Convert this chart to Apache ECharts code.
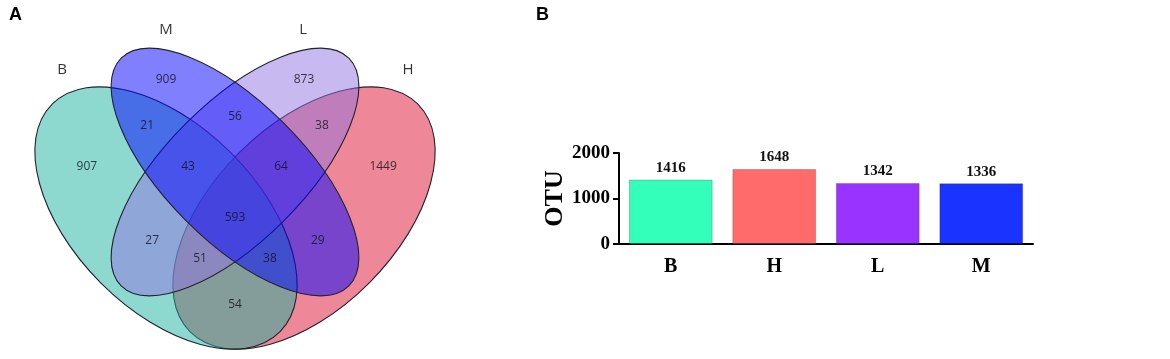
<!DOCTYPE html>
<html lang="en">
<head>
    <meta charset="UTF-8">
    <title>OTU Venn and bar chart</title>
    <script src="https://cdn.jsdelivr.net/npm/echarts@6.0.0/dist/echarts.min.js"></script>
    <style>
        html, body { margin: 0; padding: 0; background: #fff; }
        #main { width: 1170px; height: 359px; }
    </style>
</head>
<body>
    <div id="main"></div>

    <script>
        // ---- data ----
        // venn sets, drawn in this order (M on top)
        var setNames = ['H', 'B', 'L', 'M'];
        var setColors = ['rgba(221,15,49,0.5)', 'rgba(27,179,159,0.5)', 'rgba(145,115,225,0.5)', 'rgba(1,1,255,0.5)'];
        // ellipse layout in unit coords: [cx, cy, a, b, angle]
        var setShapes = [
            [0.65, 0.47, 0.35, 0.2, 45],
            [0.35, 0.47, 0.35, 0.2, -45],
            [0.5, 0.57, 0.35, 0.15, 45],
            [0.5, 0.57, 0.35, 0.15, -45]
        ];
        var setLabelPos = [[0.876, 0.792], [0.124, 0.792], [0.648, 0.879], [0.35, 0.879]];

        // region counts and where they sit
        var regionCounts = [909, 873, 21, 56, 38, 907, 43, 64, 1449, 593, 27, 29, 51, 38, 54];
        var regionPos = [
            [0.35, 0.77], [0.65, 0.77], [0.309, 0.67], [0.5, 0.69], [0.689, 0.67],
            [0.178, 0.581], [0.398, 0.581], [0.6, 0.581], [0.822, 0.581],
            [0.5, 0.47], [0.32, 0.42], [0.68, 0.42], [0.424, 0.381], [0.576, 0.381], [0.5, 0.281]
        ];

        // bar chart
        var groups = ['B', 'H', 'L', 'M'];
        var otuTotals = [1416, 1648, 1342, 1336];
        var barColors = ['#33ffbb', '#ff6b6b', '#9933ff', '#1a33ff'];

        var myChart = echarts.init(document.getElementById('main'));

        function renderEllipse(params, api) {
            var c = api.coord([api.value(0), api.value(1)]);
            var s = api.size([api.value(2), api.value(3)]);
            return {
                type: 'ellipse',
                x: c[0],
                y: c[1],
                rotation: api.value(4) * Math.PI / 180,
                shape: { cx: 0, cy: 0, rx: s[0], ry: s[1] },
                style: { fill: setColors[params.dataIndex], stroke: '#23232e', lineWidth: 1.1 }
            };
        }

        var serif = '"Liberation Serif", "Times New Roman", serif';
        var sans = '"Open Sans", "Noto Sans", sans-serif';

        myChart.setOption({
            animation: false,
            grid: [
                // 1 unit = 460px both ways
                { left: 5, top: 0, width: 460, height: 359 },
                { left: 619, top: 153, width: 414, height: 91 }
            ],
            xAxis: [
                { gridIndex: 0, type: 'value', min: 0, max: 1, show: false },
                {
                    gridIndex: 1, type: 'category', data: groups,
                    axisLine: { lineStyle: { color: '#000', width: 2 } },
                    axisTick: { alignWithLabel: true, length: 7, lineStyle: { color: '#000', width: 2 } },
                    axisLabel: { color: '#000', fontFamily: serif, fontWeight: 'bold', fontSize: 20, margin: 13 }
                },
                {
                    // small ticks between groups
                    gridIndex: 1, type: 'category', data: groups, position: 'bottom',
                    axisLine: { show: false },
                    axisTick: { length: 4, lineStyle: { color: '#000', width: 1.5 } },
                    axisLabel: { show: false }
                }
            ],
            yAxis: [
                { gridIndex: 0, type: 'value', min: 0.57 - 187 / 460, max: 0.57 + 172 / 460, show: false },
                {
                    gridIndex: 1, type: 'value', min: 0, max: 2000, interval: 1000,
                    name: 'OTU', nameLocation: 'middle', nameGap: 46, nameRotate: 90,
                    nameTextStyle: { color: '#000', fontFamily: serif, fontWeight: 'bold', fontSize: 26 },
                    splitLine: { show: false },
                    axisLine: { show: true, lineStyle: { color: '#000', width: 2 } },
                    axisTick: { show: true, length: 6, lineStyle: { color: '#000', width: 2 } },
                    axisLabel: {
                        color: '#000', fontFamily: serif, fontWeight: 'bold', fontSize: 19, margin: 9,
                        formatter: function (v) { return String(v); }
                    }
                }
            ],
            series: [
                {
                    type: 'custom',
                    xAxisIndex: 0, yAxisIndex: 0,
                    renderItem: renderEllipse,
                    data: setShapes,
                    silent: true
                },
                {
                    type: 'scatter',
                    xAxisIndex: 0, yAxisIndex: 0,
                    symbolSize: 0,
                    data: regionPos.map(function (p, i) { return { value: [p[0], p[1]], count: regionCounts[i] }; }),
                    label: {
                        show: true, position: 'inside',
                        formatter: function (p) { return p.data.count; },
                        color: '#111118', fontFamily: sans, fontSize: 12
                    }
                },
                {
                    type: 'scatter',
                    xAxisIndex: 0, yAxisIndex: 0,
                    symbolSize: 0,
                    data: setLabelPos.map(function (p, i) { return { value: [p[0], p[1]], name: setNames[i] }; }),
                    label: {
                        show: true, position: 'inside',
                        formatter: '{b}',
                        color: '#000', fontFamily: sans, fontSize: 15
                    }
                },
                {
                    type: 'bar',
                    xAxisIndex: 1, yAxisIndex: 1,
                    barWidth: '81%',
                    data: otuTotals.map(function (v, i) {
                        return { value: v, itemStyle: { color: barColors[i] } };
                    }),
                    itemStyle: { borderColor: 'rgba(0,0,0,0.2)', borderWidth: 1 },
                    label: {
                        show: true, position: 'top', distance: 4,
                        color: '#111', fontFamily: serif, fontWeight: 'bold', fontSize: 15
                    }
                }
            ],
            graphic: [
                { type: 'text', left: 9, top: 6, style: { text: 'A', fontFamily: '"Liberation Sans", Arial, sans-serif', fontWeight: 'bold', fontSize: 18, fill: '#000' } },
                { type: 'text', left: 536, top: 6, style: { text: 'B', fontFamily: '"Liberation Sans", Arial, sans-serif', fontWeight: 'bold', fontSize: 18, fill: '#000' } }
            ]
        });
    </script>
</body>
</html>
